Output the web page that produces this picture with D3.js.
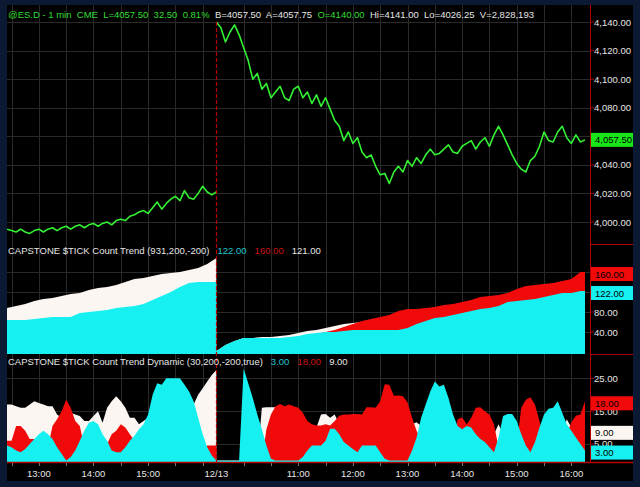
<!DOCTYPE html>
<html>
<head>
<meta charset="utf-8">
<script src="https://cdn.jsdelivr.net/npm/d3@7/dist/d3.min.js"></script>
<style>
html, body { margin: 0; padding: 0; background: #0b1932; }
svg { display: block; }
text { font-family: "Liberation Sans", Arial, sans-serif; font-size: 9.5px; white-space: pre; }
</style>
</head>
<body>
<svg id="chart" width="640" height="487"></svg>
<script>
// two trading sessions shown side by side
var sessionStarts = ['12:25', '09:30'];
var sessionEnds = ['16:15', '16:15'];

var headerParts = ['@ES.D - 1 min  CME  L=4057.50  32.50  0.81%  ', 'B=4057.50  A=4057.75  ', 'O=4140.00  ', 'Hi=4141.00  Lo=4026.25  V=2,828,193'];

// ES price, 5 minute samples
var priceStep = 5;
var priceDay1 = [3995, 3994, 3993, 3995, 3993, 3992, 3994, 3995, 3993, 3995,
    3996, 3994, 3996, 3997, 3995, 3997, 3998, 3996, 3998, 3999,
    3997, 3999, 4000, 3998, 4001, 4002, 4001, 4004, 4005, 4007,
    4008, 4006, 4010, 4014, 4009, 4013, 4016, 4018, 4015, 4022,
    4017, 4016, 4020, 4025, 4021, 4019, 4021];
var priceDay2 = [4140, 4136, 4126, 4133, 4138, 4131, 4122, 4113, 4100, 4104,
    4093, 4097, 4087, 4091, 4095, 4087, 4085, 4093, 4095, 4087,
    4091, 4083, 4089, 4081, 4087, 4079, 4071, 4067, 4057, 4063,
    4055, 4059, 4049, 4045, 4047, 4039, 4033, 4034, 4027, 4035,
    4039, 4035, 4043, 4039, 4045, 4041, 4047, 4051, 4047, 4048,
    4051, 4054, 4049, 4048, 4053, 4055, 4057, 4051, 4056, 4059,
    4053, 4061, 4067, 4061, 4054, 4047, 4041, 4037, 4035, 4043,
    4046, 4053, 4063, 4057, 4056, 4063, 4067, 4059, 4055, 4061,
    4056, 4057.5];
var priceTicks = [4000, 4020, 4040, 4060, 4080, 4100, 4120, 4140];
var lastPrice = 4057.50;

// $TICK count trend, 10 minute samples
var trendStep = 10;
var trendWhite1 = [88, 92, 96, 102, 106, 108, 112, 116, 118, 124, 128, 130, 134, 140, 146, 148, 152, 156, 158, 160, 164, 168, 176, 188];
var trendRed1 = [40, 42, 44, 46, 48, 50, 52, 54, 56, 58, 60, 62, 64, 66, 68, 70, 72, 74, 76, 78, 80, 82, 84, 86];
var trendCyan1 = [64, 64, 64, 66, 68, 70, 70, 70, 78, 80, 82, 84, 88, 90, 92, 96, 104, 112, 120, 130, 138, 140, 140, 140];
var trendWhite2 = [2, 14, 22, 28, 28, 30, 30, 32, 34, 38, 42, 44, 48, 52, 56, 58, 60, 64, 66, 70,
    74, 76, 78, 80, 84, 86, 90, 92, 96, 98, 100, 104, 106, 108, 110, 112, 114, 116, 118, 120, 121];
var trendRed2 = [0, 0, 0, 0, 0, 0, 0, 0, 10, 20, 30, 36, 40, 44, 50, 56, 62, 66, 70, 74,
    82, 86, 86, 88, 90, 94, 96, 100, 104, 110, 112, 114, 118, 126, 132, 134, 136, 138, 142, 146, 160];
var trendCyan2 = [2, 14, 22, 28, 28, 28, 28, 28, 30, 32, 36, 38, 40, 40, 42, 44, 44, 44, 44, 44,
    44, 48, 56, 62, 68, 70, 74, 78, 82, 86, 88, 92, 100, 102, 104, 106, 110, 114, 118, 118, 122];
var trendTicks = [40, 80, 120, 160];
var trendTitle = 'CAPSTONE $TICK Count Trend (931,200,-200)';
var trendLast = [122, 160, 121];

// $TICK count trend dynamic, 5 minute samples
var dynStep = 5;
var dynWhite1 = [17, 17, 16.5, 16, 16, 17, 18, 17.5, 17, 16.5,
    16.5, 14, 13, 14.5, 14.5, 14, 13.5, 12, 12, 13.5,
    15, 11.5, 16, 18, 19.5, 18, 16, 13, 13, 11,
    12, 13, 10, 10, 10, 10, 10, 10, 10, 10,
    10, 17, 20, 22, 24, 26, 27.5];
var dynRed1 = [6, 6, 10.5, 10.5, 9, 6.5, 6.5, 2, 2, 4,
    10.5, 12.5, 15, 18.5, 16, 12, 10.5, 4, 4, 4,
    4, 4, 5, 8, 9, 11, 10, 8, 6, 3,
    3, 3, 3, 3, 3, 3, 3, 3, 3, 3,
    3, 3, 3, 3, 4.5, 4.5, 4.5];
var dynCyan1 = [4.5, 4, 3, 2.5, 3.5, 5, 6.5, 8, 9, 8,
    6.5, 4, 2, 0, 1, 3, 6, 9, 11.5, 12,
    11, 8, 6, 3, 2.5, 2.5, 4, 6, 7.5, 9.5,
    11, 14, 20, 23.5, 23, 25, 25, 25, 25, 23,
    21, 18, 13, 8, 4, 1.5, 0];
var dynWhite2 = [0, 0, 0, 0, 0, 0, 0, 0, 0, 0,
    16, 16.2, 16.2, 16.2, 16, 14, 10, 10, 10, 10,
    10, 10, 10, 14, 14.1, 13, 14, 11, 8, 8,
    8, 8, 8, 8, 8, 8, 8, 8, 8, 8,
    8, 8, 8, 11, 11.6, 10.5, 8, 8, 8, 8,
    8, 8, 8, 8, 8, 8, 8, 8, 8, 8,
    8, 8, 11, 8, 8, 8, 8, 8, 8, 8,
    8, 8, 8, 8, 8, 8, 8, 12.5, 10, 9,
    9, 9];
var dynRed2 = [0, 0, 0, 0, 0, 0, 0, 0, 0, 0,
    0, 9.5, 14, 16.5, 17.2, 16.5, 17, 16.5, 16, 14.5,
    12, 11, 10.6, 10.6, 11, 10.6, 12, 13.6, 14, 14,
    14.1, 14.1, 14, 16.2, 16.2, 16, 18, 23.2, 23, 19.7,
    19.8, 19.5, 17.7, 13, 9, 6, 4, 4, 4, 4,
    4, 4, 4, 12.5, 13.1, 11, 13, 16, 16.2, 15,
    14, 11, 4, 3, 5, 5, 5, 16, 18.5, 19.2,
    17, 12, 6, 5, 5, 5, 5, 8, 11.6, 13.6,
    14, 18];
var dynCyan2 = [0, 0, 0, 0, 0, 0, 28, 23.5, 19, 14,
    9.5, 4.5, 0.5, 0, 0, 0, 0, 0, 0, 1,
    3, 4.5, 4.5, 4.5, 6, 9.6, 9.6, 8, 5.6, 4.5,
    3.5, 2.5, 4.5, 4.5, 4.5, 4.5, 2.5, 0.5, 0, 0,
    0, 0, 0, 3, 7, 13, 17, 21, 24, 22.5,
    23, 19, 14, 10.5, 9.5, 10.5, 10, 8, 6.5, 5.6,
    4, 2.5, 7, 13.5, 14.1, 14.1, 12, 8, 4.5, 2.5,
    5.5, 10, 14, 15.7, 16, 18, 14.5, 11, 9, 7,
    5, 3];
var dynTicks = [5, 15, 25];
var dynTitle = 'CAPSTONE $TICK Count Trend Dynamic (30,200,-200,true)';
var dynLast = [3, 18, 9];

var timeTickSessions = [0, 0, 0, 1, 1, 1, 1, 1, 1, 1];
var timeTickTimes = ['13:00', '14:00', '15:00', '09:30', '11:00', '12:00', '13:00', '14:00', '15:00', '16:00'];
var timeTickLabels = ['13:00', '14:00', '15:00', '12/13', '11:00', '12:00', '13:00', '14:00', '15:00', '16:00'];

var colors = {
    cyan: '#16f0f0', red: '#f00a0a', white: '#fcf6f2', green: '#33f233',
    greenText: '#33dd33', label: '#e6e6e6', grid: '#2a2a2a', axis: '#b40000',
    cyanText: '#22c6d0', redText: '#cc1414'
};

function toMinutes(hhmm) {
    var p = hhmm.split(':');
    return +p[0] * 60 + +p[1];
}

var sessionOffset = [0, toMinutes(sessionEnds[0]) - toMinutes(sessionStarts[0])];
var sessionLength = [sessionOffset[1], toMinutes(sessionEnds[1]) - toMinutes(sessionStarts[1])];
var totalMinutes = sessionOffset[1] + sessionLength[1];

function chartMinute(session, hhmm) {
    return sessionOffset[session] + toMinutes(hhmm) - toMinutes(sessionStarts[session]);
}

function toPoints(session, step, values) {
    return values.map(function (v, i) { return {m: sessionOffset[session] + i * step, v: v}; });
}

var leftEdge = 7, dataRight = 585, axisX = 590, frameRight = 633, frameTop = 5, frameBottom = 481, timeAxisY = 462;
var panels = [
    {top: frameTop, bottom: 244},
    {top: 244, bottom: 354},
    {top: 354, bottom: timeAxisY}
];

var svg = d3.select('#chart');

svg.append('rect').attr('width', 640).attr('height', 487).attr('fill', '#0b1932');
svg.append('rect')
    .attr('x', leftEdge).attr('y', frameTop)
    .attr('width', frameRight - leftEdge).attr('height', frameBottom - frameTop)
    .attr('fill', '#000');

var x = d3.scaleLinear().domain([0, totalMinutes]).range([leftEdge, dataRight]);
var yPrice = d3.scaleLinear().domain([4000, 4140]).range([222, 22]);
var yTrend = d3.scaleLinear().domain([0, 160]).range([352, 272]);
var yDyn = d3.scaleLinear().domain([0, 25]).range([460.4, 378.3]);

// half hour grid positions in each session
var gridMinutes = [];
[0, 1].forEach(function (s) {
    var start = toMinutes(sessionStarts[s]), end = toMinutes(sessionEnds[s]);
    for (var t = Math.ceil(start / 30) * 30; t <= end; t += 30) {
        if (t > start) gridMinutes.push(sessionOffset[s] + t - start);
    }
});

function drawGrid(panel, scale, ticks) {
    var g = svg.append('g').attr('class', 'grid');
    g.selectAll('line.v').data(gridMinutes).enter().append('line')
        .attr('x1', function (d) { return Math.round(x(d)) + 0.5; })
        .attr('x2', function (d) { return Math.round(x(d)) + 0.5; })
        .attr('y1', panel.top).attr('y2', panel.bottom)
        .attr('stroke', colors.grid);
    g.selectAll('line.h').data(ticks).enter().append('line')
        .attr('x1', leftEdge).attr('x2', axisX)
        .attr('y1', function (d) { return Math.round(scale(d)) + 0.5; })
        .attr('y2', function (d) { return Math.round(scale(d)) + 0.5; })
        .attr('stroke', colors.grid);
}

drawGrid(panels[0], yPrice, priceTicks);
drawGrid(panels[1], yTrend, trendTicks);
drawGrid(panels[2], yDyn, dynTicks);

panels.forEach(function (p, i) {
    svg.append('clipPath').attr('id', 'clip' + i)
        .append('rect').attr('x', leftEdge).attr('y', p.top)
        .attr('width', axisX - leftEdge).attr('height', p.bottom - p.top);
});

function drawArea(panelIndex, pts, scale, color, curve) {
    var area = d3.area()
        .x(function (d) { return x(d.m); })
        .y0(panels[panelIndex].bottom)
        .y1(function (d) { return scale(d.v); })
        .curve(curve);
    svg.append('path')
        .datum(pts)
        .attr('clip-path', 'url(#clip' + panelIndex + ')')
        .attr('d', area)
        .attr('fill', color);
}

function withSessionEnd(session, pts) {
    var last = pts[pts.length - 1];
    return pts.concat([{m: sessionOffset[session] + sessionLength[session], v: last.v}]);
}

// panel 2: count trend (white, then red, cyan on top)
[[trendWhite1, trendWhite2, colors.white], [trendRed1, trendRed2, colors.red], [trendCyan1, trendCyan2, colors.cyan]]
    .forEach(function (s) {
        drawArea(1, withSessionEnd(0, toPoints(0, trendStep, s[0])), yTrend, s[2], d3.curveLinear);
        drawArea(1, withSessionEnd(1, toPoints(1, trendStep, s[1])), yTrend, s[2], d3.curveLinear);
    });

// panel 3: dynamic trend
[[dynWhite1, dynWhite2, colors.white], [dynRed1, dynRed2, colors.red], [dynCyan1, dynCyan2, colors.cyan]]
    .forEach(function (s) {
        drawArea(2, toPoints(0, dynStep, s[0]), yDyn, s[2], d3.curveLinear);
        drawArea(2, toPoints(1, dynStep, s[1]), yDyn, s[2], d3.curveLinear);
    });

// panel 1: price
var priceLine = d3.line()
    .x(function (d) { return x(d.m); })
    .y(function (d) { return yPrice(d.v); })
    .curve(d3.curveLinear);

[toPoints(0, priceStep, priceDay1), toPoints(1, priceStep, priceDay2)].forEach(function (pts) {
    svg.append('path')
        .datum(pts)
        .attr('clip-path', 'url(#clip0)')
        .attr('d', priceLine)
        .attr('fill', 'none')
        .attr('stroke', colors.green)
        .attr('stroke-width', 1.6)
        .attr('stroke-linejoin', 'round');
});

// session break
var breakX = Math.round(x(sessionOffset[1])) + 0.5;
svg.append('line')
    .attr('x1', breakX).attr('x2', breakX)
    .attr('y1', 22).attr('y2', timeAxisY)
    .attr('stroke', colors.axis)
    .attr('stroke-width', 1.2)
    .attr('stroke-dasharray', '4,2');

// black backdrop for the right scale
svg.append('rect')
    .attr('x', axisX).attr('y', frameTop)
    .attr('width', frameRight - axisX).attr('height', timeAxisY - frameTop)
    .attr('fill', '#000');

// axis frame lines
svg.append('line').attr('x1', axisX + 0.5).attr('x2', axisX + 0.5).attr('y1', frameTop).attr('y2', timeAxisY + 1).attr('stroke', colors.axis);
svg.append('line').attr('x1', leftEdge).attr('x2', frameRight).attr('y1', timeAxisY + 0.5).attr('y2', timeAxisY + 0.5).attr('stroke', colors.axis).attr('stroke-width', 1.5);
[panels[0].bottom, panels[1].bottom].forEach(function (yy) {
    svg.append('line').attr('x1', axisX).attr('x2', frameRight).attr('y1', yy + 0.5).attr('y2', yy + 0.5).attr('stroke', colors.axis);
});

function drawScale(scale, ticks, format) {
    var g = svg.append('g').attr('class', 'y axis');
    var t = g.selectAll('g').data(ticks).enter().append('g')
        .attr('transform', function (d) { return 'translate(0,' + scale(d) + ')'; });
    t.append('line').attr('x1', axisX).attr('x2', axisX + 4).attr('stroke', colors.axis);
    t.append('text').attr('x', axisX + 4).attr('dy', 3.5).attr('fill', colors.label).text(format);
}

drawScale(yPrice, priceTicks, d3.format(',.2f'));
drawScale(yTrend, trendTicks, d3.format('.2f'));
drawScale(yDyn, dynTicks, d3.format('.2f'));

function valueBox(yy, value, fill, format) {
    svg.append('rect')
        .attr('x', axisX + 1).attr('y', yy - 7)
        .attr('width', frameRight - axisX - 1).attr('height', 14)
        .attr('fill', fill);
    svg.append('text')
        .attr('x', axisX + 5).attr('y', yy + 3.5)
        .attr('fill', '#000')
        .text(format(value));
}

var fmt2 = d3.format('.2f');
valueBox(yPrice(lastPrice), lastPrice, '#19e619', d3.format(',.2f'));
valueBox(yTrend(trendLast[1]) + 2, trendLast[1], colors.red, fmt2);
valueBox(yTrend(trendLast[0]) + 2, trendLast[0], colors.cyan, fmt2);
valueBox(yDyn(dynLast[1]) + 2, dynLast[1], colors.red, fmt2);
valueBox(yDyn(dynLast[2]) + 2, dynLast[2], colors.white, fmt2);
valueBox(yDyn(dynLast[0]) + 2, dynLast[0], colors.cyan, fmt2);

// header and panel titles
var header = svg.append('text').attr('x', 8).attr('y', 18);
var headerColors = [colors.greenText, colors.label, colors.greenText, colors.label];
headerParts.forEach(function (p, i) {
    header.append('tspan').attr('fill', headerColors[i]).text(p);
});

function panelTitle(yy, title, values) {
    var t = svg.append('text').attr('x', 8).attr('y', yy);
    t.append('tspan').attr('fill', colors.label).text(title);
    var c = [colors.cyanText, colors.redText, colors.label];
    values.forEach(function (v, i) {
        t.append('tspan').attr('dx', 8).attr('fill', c[i]).text(fmt2(v));
    });
}

panelTitle(254, trendTitle, trendLast);
panelTitle(364.5, dynTitle, dynLast);

// time axis
svg.append('g').selectAll('line').data(gridMinutes).enter().append('line')
    .attr('x1', function (d) { return Math.round(x(d)) + 0.5; })
    .attr('x2', function (d) { return Math.round(x(d)) + 0.5; })
    .attr('y1', timeAxisY + 1).attr('y2', timeAxisY + 4)
    .attr('stroke', '#777');

svg.append('g').selectAll('text').data(timeTickLabels).enter().append('text')
    .attr('x', function (d, i) { return x(chartMinute(timeTickSessions[i], timeTickTimes[i])); })
    .attr('y', 477)
    .attr('text-anchor', 'middle')
    .attr('fill', colors.label)
    .text(function (d) { return d; });
</script>
</body>
</html>
